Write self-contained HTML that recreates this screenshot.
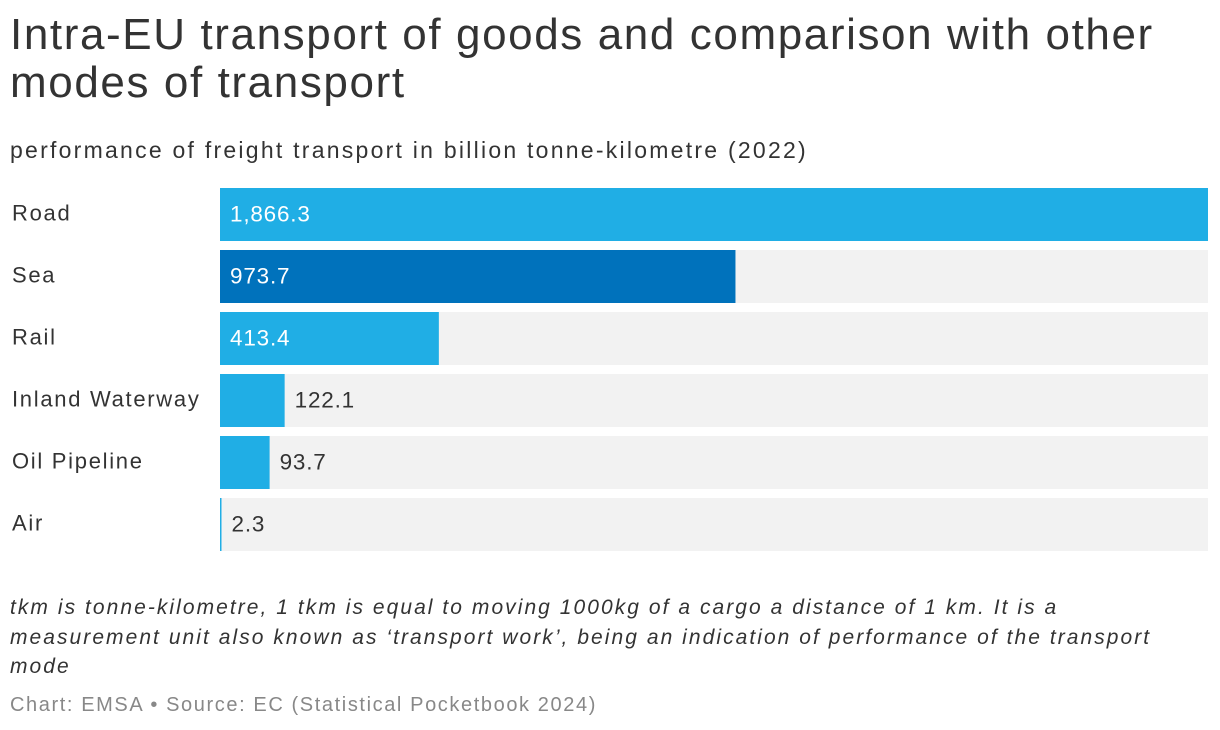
<!DOCTYPE html>
<html><head><meta charset="utf-8"><style>
body{margin:0;width:1220px;height:730px;background:#fff;font-family:"Liberation Sans",sans-serif;color:#333;position:relative;overflow:hidden}
.t{position:absolute;left:10px;top:11px;font-size:44px;line-height:48px;color:#333;width:1210px;letter-spacing:1.6px;white-space:nowrap}
.s{position:absolute;left:10px;top:137px;font-size:23px;color:#333;letter-spacing:2.25px;white-space:nowrap}
.n{position:absolute;left:10px;top:593px;font-size:21px;line-height:29.5px;font-style:italic;color:#333;width:1210px;letter-spacing:2.05px;white-space:nowrap}
.src{position:absolute;left:10px;top:694px;font-size:20px;color:#888;letter-spacing:1.6px;white-space:nowrap}
</style></head><body>
<div class="t">Intra-EU transport of goods and comparison with other<br>modes of transport</div>
<div class="s">performance of freight transport in billion tonne-kilometre (2022)</div>
<svg id="c" width="1220" height="730" style="position:absolute;left:0;top:0"></svg>
<div class="n">tkm is tonne-kilometre, 1 tkm is equal to moving 1000kg of a cargo a distance of 1 km. It is a<br>measurement unit also known as ‘transport work’, being an indication of performance of the transport<br>mode</div>
<div class="src">Chart: EMSA • Source: EC (Statistical Pocketbook 2024)</div>
<script>
const categories=["Road","Sea","Rail","Inland Waterway","Oil Pipeline","Air"];
const values=[1866.3,973.7,413.4,122.1,93.7,2.3];
const labels=["1,866.3","973.7","413.4","122.1","93.7","2.3"];
const colors=["#20aee5","#0072bc","#20aee5","#20aee5","#20aee5","#20aee5"];
const svg=document.getElementById('c');const NS="http://www.w3.org/2000/svg";
const x0=220,x1=1208,top0=188,pitch=62,bh=53;
const maxV=Math.max(...values);
const xs=v=>x0+(v/maxV)*(x1-x0);
function mk(t,a){const e=document.createElementNS(NS,t);for(const k in a)e.setAttribute(k,a[k]);svg.appendChild(e);return e;}
categories.forEach((c,i)=>{
const y=top0+i*pitch;
const tr=mk('rect',{x:x0,y:y,width:x1-x0,height:bh,fill:'#f2f2f2'});


const w=Math.max(xs(values[i])-x0,1.5);
const b=mk('rect',{x:x0,y:y,width:w,height:bh,fill:colors[i]});


const l=mk('text',{x:12,y:y+bh/2,'font-size':22,'letter-spacing':1.7,fill:'#333','font-family':'Liberation Sans, sans-serif','dominant-baseline':'middle'});
l.textContent=c;


const inside=w>150;
const v=mk('text',{x:inside?x0+10:x0+w+10,y:y+bh/2+1,'font-size':22.5,'letter-spacing':0.8,fill:inside?'#fff':'#333','font-family':'Liberation Sans, sans-serif','dominant-baseline':'middle'});
v.textContent=labels[i];


});
</script>
</body></html>
